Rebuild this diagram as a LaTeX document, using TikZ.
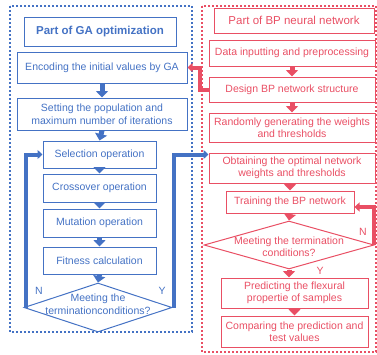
\documentclass[tikz,border=0pt]{standalone}
\usepackage{fontspec}
\setmainfont{Liberation Sans}
\usetikzlibrary{arrows.meta,shapes.geometric}
\definecolor{gablue}{HTML}{4472C4}
\definecolor{bpred}{HTML}{E94F64}
\begin{document}
\begin{tikzpicture}[x=1pt,y=-1pt,
  gabox/.style={draw=gablue, line width=1pt, text=gablue, inner sep=0pt, align=center, font=\fontsize{10.5}{12.5}\selectfont},
  bpbox/.style={draw=bpred, line width=1pt, text=bpred, inner sep=0pt, align=center, font=\fontsize{10.5}{12.5}\selectfont},
  gatext/.style={text=gablue, inner sep=0pt, align=center, font=\fontsize{10.5}{12.5}\selectfont},
  bptext/.style={text=bpred, inner sep=0pt, align=center, font=\fontsize{10.5}{12.5}\selectfont},
  gadiam/.style={diamond, draw=gablue, line width=1pt, inner sep=0pt},
  bpdiam/.style={diamond, draw=bpred, line width=1pt, inner sep=0pt},
  gaarrow/.style={draw=gablue, line width=5pt, -{Triangle[width=12pt,length=6.5pt]}},
  bparrow/.style={draw=bpred, line width=5pt, -{Triangle[width=12pt,length=6.5pt]}},
  galoop/.style={draw=gablue, line width=4pt, line join=miter, -{Triangle[width=9pt,length=5pt]}},
  bploop/.style={draw=bpred, line width=4pt, line join=miter, -{Triangle[width=9pt,length=5pt]}},
  gaframe/.style={draw=gablue, line width=2pt, dash pattern=on 2pt off 2pt},
  bpframe/.style={draw=bpred, line width=2pt, dash pattern=on 2pt off 2pt}
]
\useasboundingbox (0,0) rectangle (377,354);
% frames
\draw[gaframe] (10,6) rectangle (192,332);
\draw[bpframe] (202,6) rectangle (376,352);

% GA part
\node[gabox, minimum width=152pt, minimum height=29pt, font=\fontsize{11.5}{13}\selectfont\bfseries] (gatitle) at (100,31.5) {Part of GA optimization};
\node[gabox, minimum width=170pt, minimum height=31pt] (enc) at (102,67.5) {Encoding the initial values by GA};
\node[gabox, minimum width=170pt, minimum height=32pt] (set) at (102,114) {Setting the population and\\maximum number of iterations};
\node[gabox, minimum width=113pt, minimum height=27pt] (sel) at (99.5,154.5) {Selection operation};
\node[gabox, minimum width=113pt, minimum height=28pt] (cro) at (99.5,188) {Crossover operation};
\node[gabox, minimum width=113pt, minimum height=28pt] (mut) at (99.5,223) {Mutation operation};
\node[gabox, minimum width=113pt, minimum height=27pt] (fit) at (99.5,260.5) {Fitness calculation};
\node[gadiam, minimum width=148pt, minimum height=49pt] (d1) at (98,307.5) {};
\node[gatext] (d1t) at (98,304) {Meeting the\\terminationconditions?};

\draw[gaarrow] (enc.south) -- (set.north);
\draw[gaarrow] (set.south) -- (sel.north);
\draw[gaarrow] (sel.south) -- (cro.north);
\draw[gaarrow] (cro.south) -- (mut.north);
\draw[gaarrow] (mut.south) -- (fit.north);
\draw[gaarrow] (fit.south) -- (d1.north);

\draw[galoop] ([xshift=2pt]d1.west) |- (sel.west);
\node[gatext] (gan) at (39,291) {N};
\node[gatext] (gay) at (162,291) {Y};

% BP part
\node[bpbox, minimum width=160pt, minimum height=25pt, font=\fontsize{11.5}{13}\selectfont] (bptitle) at (294,20.5) {Part of BP neural network};
\node[bpbox, minimum width=166pt, minimum height=26pt] (data) at (292,53) {Data inputting and preprocessing};
\node[bpbox, minimum width=166pt, minimum height=25pt] (design) at (292,89.5) {Design BP network structure};
\node[bpbox, minimum width=166pt, minimum height=29pt] (rand) at (292,127.5) {Randomly generating the weights\\and thresholds};
\node[bpbox, minimum width=166pt, minimum height=30pt] (obt) at (292,168) {Obtaining the optimal network\\weights and thresholds};
\node[bpbox, minimum width=128pt, minimum height=22pt] (train) at (290,202) {Training the BP network};
\node[bpdiam, minimum width=170pt, minimum height=48pt] (d2) at (289,245) {};
\node[bptext] (d2t) at (289,246.5) {Meeting the termination\\conditions?};
\node[bpbox, minimum width=147pt, minimum height=30pt] (pred) at (294.5,293) {Predicting the flexural\\propertie of samples};
\node[bpbox, minimum width=147pt, minimum height=31pt] (comp) at (294.5,331.5) {Comparing the prediction and\\test values};

\draw[bparrow] (data.south) -- (design.north);
\draw[bparrow] (design.south) -- (rand.north);
\draw[bparrow] (obt.south -| train.north) -- (train.north);
\draw[bparrow] (train.south) -- (d2.north);
\draw[bparrow] (d2.south) -- (d2.south |- pred.north);
\draw[bparrow] (pred.south) -- (pred.south |- comp.north);

\draw[bploop] ([xshift=-1pt]d2.east) |- ([yshift=-5pt]train.east);
\node[bptext] (bpn) at (363,232) {N};
\node[bptext] (bpy) at (320,271) {Y};

% cross connectors
\draw[galoop] ([xshift=1pt]d1.east) |- ([yshift=-2pt]obt.north west);
\draw[bploop] (design.west) -- ++(-9,0) |- (enc.east);
\end{tikzpicture}
\end{document}
